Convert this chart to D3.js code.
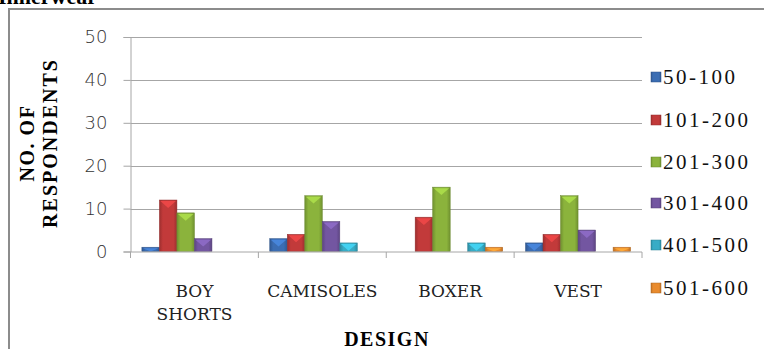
<!DOCTYPE html>
<html>
<head>
<meta charset="UTF-8">
<script src="https://d3js.org/d3.v7.min.js"></script>
<style>
  body { margin: 0; background: #fff; }
</style>
</head>
<body>
<div id="chart"></div>
<script>
var designs = ["BOY SHORTS", "CAMISOLES", "BOXER", "VEST"];
var ranges = ["50-100", "101-200", "201-300", "301-400", "401-500", "501-600"];
var v50_100  = [1, 3, 0, 2];
var v101_200 = [12, 4, 8, 4];
var v201_300 = [9, 13, 15, 13];
var v301_400 = [3, 7, 0, 5];
var v401_500 = [0, 2, 2, 0];
var v501_600 = [0, 0, 1, 1];
var yTicks = [0, 10, 20, 30, 40, 50];
var colors = ["#3b6db3", "#c23a3a", "#8bb33c", "#7356a1", "#37acc6", "#e98b2e"];

var series = [v50_100, v101_200, v201_300, v301_400, v401_500, v501_600];
var SERIF = "'Liberation Serif', 'Times New Roman', Times, serif";
var WIDESERIF = "'DejaVu Serif', serif";

var W = 764, H = 349;
var svg = d3.select("#chart").append("svg").attr("width", W).attr("height", H)
  .style("font-family", SERIF);

var defs = svg.append("defs");
colors.forEach(function (c, i) {
  var g = defs.append("linearGradient").attr("id", "g" + i).attr("x1", 0).attr("x2", 1).attr("y1", 0).attr("y2", 0);
  g.append("stop").attr("offset", "0%").attr("stop-color", d3.color(c).darker(0.6));
  g.append("stop").attr("offset", "20%").attr("stop-color", c);
  g.append("stop").attr("offset", "80%").attr("stop-color", c);
  g.append("stop").attr("offset", "100%").attr("stop-color", d3.color(c).darker(0.6));
});

// cut-off title at very top
svg.append("text").attr("x", -2).attr("y", 4).style("font-family", SERIF).style("font-size", "22px").style("font-weight", "bold").text("Innerwear");

// outer frame
svg.append("path").attr("d", "M9,349 V9 H764").attr("fill", "none").attr("stroke", "#8c8c8c").attr("stroke-width", 2);

var plotL = 130.5, plotR = 642, plotT = 37, plotB = 251.5;
var x = d3.scaleBand().domain(designs).range([plotL, plotR]);
var xs = d3.scaleBand().domain(d3.range(ranges.length)).range([0, x.bandwidth()]).paddingOuter(0.65);
var y = d3.scaleLinear().domain([0, 50]).range([plotB, plotT]);

// gridlines
svg.append("g").selectAll("line").data(yTicks.slice(1)).join("line")
  .attr("x1", plotL).attr("x2", plotR)
  .attr("y1", function (d) { return Math.round(y(d)) + 0.5; })
  .attr("y2", function (d) { return Math.round(y(d)) + 0.5; })
  .attr("stroke", "#a6a6a6");

// bars
series.forEach(function (vals, si) {
  var g = svg.append("g");
  designs.forEach(function (dsn, ci) {
    var v = vals[ci];
    if (!v) return;
    var bx = x(dsn) + xs(si), bw = xs.bandwidth(), by = y(v), bh = plotB - y(v);
    g.append("rect").attr("x", bx).attr("y", by).attr("width", bw).attr("height", bh)
      .attr("fill", "url(#g" + si + ")").attr("stroke", d3.color(colors[si]).darker(0.8)).attr("stroke-width", 0.5);
    var th = Math.min(bw * 0.45, bh);
    g.append("path")
      .attr("d", "M" + (bx + 1) + "," + (by + 1) + " L" + (bx + bw - 1) + "," + (by + 1) + " L" + (bx + bw / 2) + "," + (by + th) + " Z")
      .attr("fill", d3.color(colors[si]).brighter(0.6)).attr("opacity", 0.9);
  });
});

// y axis
var yAxis = d3.axisLeft(y).tickValues(yTicks).tickSize(7).tickPadding(16);
var ya = svg.append("g").attr("transform", "translate(" + plotL + ",0)").call(yAxis);
ya.select(".domain").attr("stroke", "#a6a6a6");
ya.selectAll(".tick line").attr("stroke", "#a6a6a6");
ya.selectAll(".tick text").style("font-family", "'DejaVu Sans', sans-serif").style("font-size", "18px")
  .style("font-weight", "300").attr("fill", "#333");

// x axis
var xa = svg.append("g").attr("transform", "translate(0," + (plotB + 0.5) + ")");
xa.append("line").attr("x1", plotL).attr("x2", plotR).attr("stroke", "#a6a6a6");
xa.selectAll("line.t").data(d3.range(designs.length + 1)).join("line").attr("class", "t")
  .attr("x1", function (i) { return plotL + i * x.bandwidth(); })
  .attr("x2", function (i) { return plotL + i * x.bandwidth(); })
  .attr("y1", 0).attr("y2", 6).attr("stroke", "#a6a6a6");
designs.forEach(function (dsn) {
  var words = dsn === "BOY SHORTS" ? ["BOY", "SHORTS"] : [dsn];
  var t = svg.append("text").attr("text-anchor", "middle").attr("x", x(dsn) + x.bandwidth() / 2).attr("y", 297)
    .style("font-family", WIDESERIF).style("font-size", "17px").style("font-weight", "300").attr("fill", "#222");
  words.forEach(function (w, i) {
    t.append("tspan").attr("x", x(dsn) + x.bandwidth() / 2).attr("dy", i ? 23 : 0).text(w);
  });
});

// axis titles
svg.append("text").attr("x", 387).attr("y", 346).attr("text-anchor", "middle").style("font-family", SERIF)
  .style("font-size", "20px").style("font-weight", "bold").style("letter-spacing", "1.5px").text("DESIGN");
var yt = svg.append("g").attr("transform", "translate(34,143) rotate(-90)");
yt.append("text").attr("text-anchor", "middle").attr("x", 0).attr("y", 0).style("font-family", SERIF)
  .style("font-size", "20px").style("font-weight", "bold").style("letter-spacing", "1.5px").text("NO. OF");
yt.append("text").attr("text-anchor", "middle").attr("x", 0).attr("y", 23).style("font-family", SERIF)
  .style("font-size", "20px").style("font-weight", "bold").style("letter-spacing", "2px").text("RESPONDENTS");

// legend
var legendY = [77, 120, 162, 203, 245, 288];
var lg = svg.append("g").selectAll("g").data(ranges).join("g")
  .attr("transform", function (d, i) { return "translate(651," + legendY[i] + ")"; });
lg.append("rect").attr("x", 0).attr("y", -5).attr("width", 10).attr("height", 10)
  .attr("fill", function (d, i) { return "url(#g" + i + ")"; })
  .attr("stroke", function (d, i) { return d3.color(colors[i]).darker(0.8); }).attr("stroke-width", 0.5);
lg.append("text").attr("x", 12).attr("y", 7).style("font-family", SERIF).style("font-size", "21px").style("letter-spacing", "2.5px")
  .attr("fill", "#111").text(function (d) { return d; });
</script>
</body>
</html>
